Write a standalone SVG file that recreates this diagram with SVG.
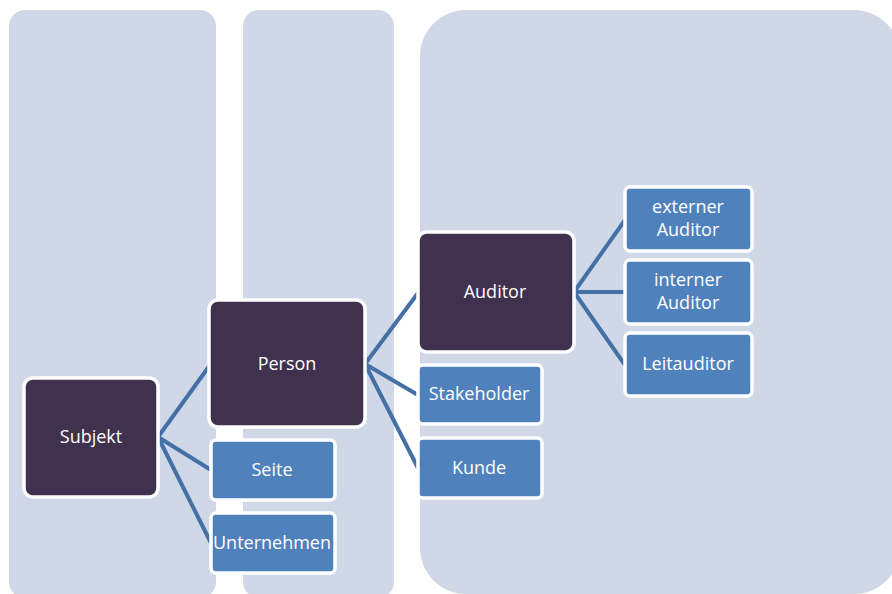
<svg xmlns="http://www.w3.org/2000/svg" width="892" height="594" viewBox="0 0 892 594">
  <style>
    .lane { fill: #d0d8e7; }
    .dark { fill: #40314f; stroke: #ffffff; stroke-width: 3.5; }
    .light { fill: #4f81bd; stroke: #ffffff; stroke-width: 3.5; }
    .lbl { font-family: "Open Sans", "Liberation Sans", sans-serif; font-size: 18px; fill: #ffffff; text-anchor: middle; dominant-baseline: central; }
    .link { fill: none; stroke: #4470a6; stroke-width: 4; stroke-linecap: butt; }
  </style>

  <!-- background lanes -->
  <g id="lanes">
    <rect class="lane" x="9" y="10" width="207" height="588" rx="16"/>
    <rect class="lane" x="243" y="10" width="151" height="588" rx="16"/>
    <rect class="lane" x="420" y="10" width="480" height="584" rx="46"/>
  </g>

  <!-- connectors -->
  <g id="connectors">
    <path class="link" d="M158 437 L210 365 M158 437 L211 470 M158 437 L211 543"/>
    <path class="link" d="M365 364 L418 293 M365 364 L418 395 M365 364 L418 468"/>
    <path class="link" d="M574 292 L625 220 M574 292 L625 292 M574 292 L625 365"/>
  </g>

  <g id="subjekt">
    <rect class="dark" x="24" y="378" width="134" height="119" rx="9"/>
    <text class="lbl" x="91" y="436">Subjekt</text>
  </g>
  <g id="person">
    <rect class="dark" x="209" y="300" width="156" height="127" rx="9"/>
    <text class="lbl" x="287" y="363">Person</text>
  </g>
  <g id="seite">
    <rect class="light" x="211" y="440" width="124" height="60" rx="5"/>
    <text class="lbl" x="272" y="469">Seite</text>
  </g>
  <g id="unternehmen">
    <rect class="light" x="211" y="513" width="124" height="60" rx="5"/>
    <text class="lbl" x="272" y="542">Unternehmen</text>
  </g>
  <g id="auditor">
    <rect class="dark" x="418" y="232" width="156" height="120" rx="9"/>
    <text class="lbl" x="495" y="291">Auditor</text>
  </g>
  <g id="stakeholder">
    <rect class="light" x="418" y="365" width="124" height="59" rx="5"/>
    <text class="lbl" x="479" y="393">Stakeholder</text>
  </g>
  <g id="kunde">
    <rect class="light" x="418" y="438" width="124" height="60" rx="5"/>
    <text class="lbl" x="479" y="467">Kunde</text>
  </g>
  <g id="externer-auditor">
    <rect class="light" x="625" y="187" width="127" height="64" rx="5"/>
    <text class="lbl" x="688" y="206">externer</text>
    <text class="lbl" x="688" y="229">Auditor</text>
  </g>
  <g id="interner-auditor">
    <rect class="light" x="625" y="260" width="127" height="64" rx="5"/>
    <text class="lbl" x="688" y="279">interner</text>
    <text class="lbl" x="688" y="302">Auditor</text>
  </g>
  <g id="leitauditor">
    <rect class="light" x="625" y="333" width="127" height="63" rx="5"/>
    <text class="lbl" x="688" y="363">Leitauditor</text>
  </g>
</svg>
